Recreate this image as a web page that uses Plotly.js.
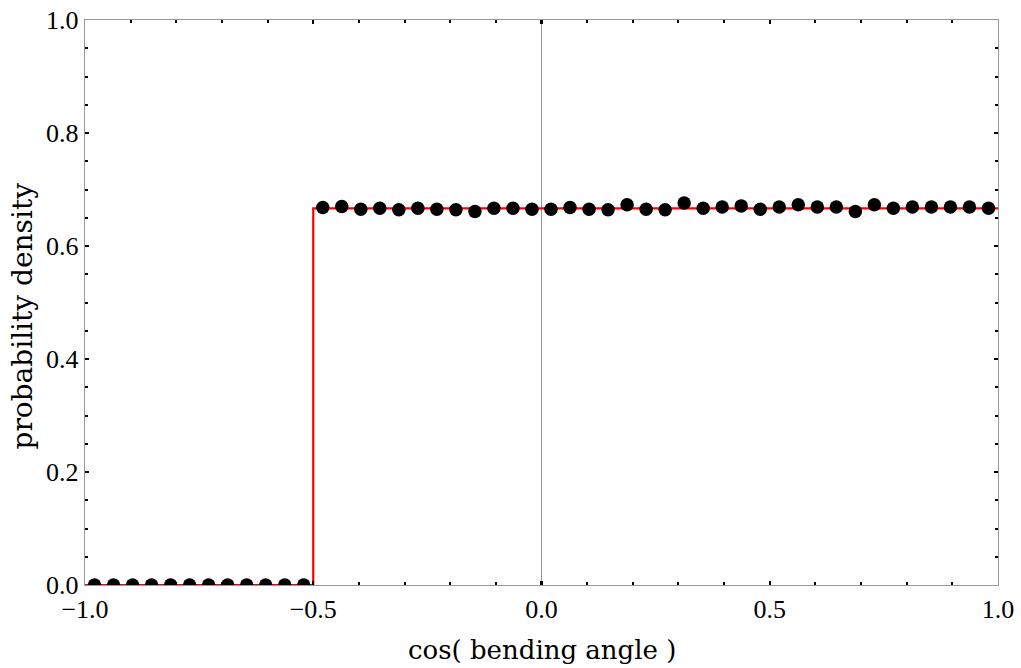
<!DOCTYPE html>
<html>
<head>
<meta charset="utf-8">
<script src="https://cdn.plot.ly/plotly-3.0.1.min.js"></script>
<style>html,body{margin:0;padding:0;background:#fff;}#chart{width:1021px;height:668px;}</style>
</head>
<body>
<div id="chart"></div>
<script>
// 48 histogram bins of cos(bending angle), width 1/24
const binCenters = [
  -0.9792,-0.9375,-0.8958,-0.8542,-0.8125,-0.7708,-0.7292,-0.6875,-0.6458,-0.6042,-0.5625,-0.5208,
  -0.4792,-0.4375,-0.3958,-0.3542,-0.3125,-0.2708,-0.2292,-0.1875,-0.1458,-0.1042,-0.0625,-0.0208,
   0.0208, 0.0625, 0.1042, 0.1458, 0.1875, 0.2292, 0.2708, 0.3125, 0.3542, 0.3958, 0.4375, 0.4792,
   0.5208, 0.5625, 0.6042, 0.6458, 0.6875, 0.7292, 0.7708, 0.8125, 0.8542, 0.8958, 0.9375, 0.9792
];
const density = [
  0,0,0,0,0,0,0,0,0,0,0,0,
  0.668,0.670,0.665,0.667,0.664,0.667,0.665,0.664,0.661,0.667,0.667,0.665,
  0.665,0.668,0.665,0.664,0.673,0.665,0.664,0.676,0.667,0.669,0.671,0.665,
  0.669,0.673,0.669,0.669,0.661,0.673,0.667,0.669,0.669,0.669,0.669,0.667
];
// theoretical step density
const theoryX = [-1.0, -0.5, -0.5, 1.0];
const theoryY = [0, 0, 0.6667, 0.6667];

const xTickVals = [-1, -0.5, 0, 0.5, 1];
const xTickText = ['\u22121.0', '\u22120.5', '0.0', '0.5', '1.0'];
const yTickVals = [0, 0.2, 0.4, 0.6, 0.8, 1.0];
const yTickText = ['0.0', '0.2', '0.4', '0.6', '0.8', '1.0'];
const xTitle = 'cos( bending angle )';
const yTitle = 'probability density';

const tickFont = 'Liberation Serif, Times New Roman, serif';
const titleFont = 'DejaVu Serif, serif';

const traces = [
  {x: theoryX, y: theoryY, type: 'scatter', mode: 'lines',
   line: {color: '#ff0000', width: 2.2}},
  {x: binCenters, y: density, type: 'scatter', mode: 'markers',
   marker: {color: 'black', size: 13.5}, cliponaxis: true}
];

const axisCommon = {
  showgrid: false,
  showline: true, linecolor: '#999999', linewidth: 1.3,
  mirror: 'ticks',
  ticks: 'inside', ticklen: 4, tickwidth: 2.2, tickcolor: '#000000',
  tickfont: {family: tickFont, size: 26, color: '#000'},
  automargin: false
};

const layout = {
  width: 1021, height: 668,
  margin: {l: 85, r: 23, t: 20, b: 83},
  paper_bgcolor: '#fff', plot_bgcolor: '#fff',
  showlegend: false,
  font: {family: tickFont, color: '#000'},
  xaxis: Object.assign({}, axisCommon, {
    range: [-1, 1], tickmode: 'array', tickvals: xTickVals, ticktext: xTickText,
    zeroline: true, zerolinecolor: '#999999', zerolinewidth: 1,
    minor: {dtick: 0.1, tick0: 0, ticks: 'inside', ticklen: 3, tickwidth: 2, tickcolor: '#000'}
  }),
  yaxis: Object.assign({}, axisCommon, {
    range: [0, 1], tickmode: 'array', tickvals: yTickVals, ticktext: yTickText,
    zeroline: false,
    minor: {dtick: 0.05, tick0: 0, ticks: 'inside', ticklen: 3, tickwidth: 2, tickcolor: '#000'}
  }),
  annotations: [
    {text: xTitle, xref: 'paper', yref: 'paper', x: 0.5, y: 0, xanchor: 'center', yanchor: 'middle',
     yshift: -65, showarrow: false, font: {family: titleFont, size: 26, color: '#000'}},
    {text: yTitle, xref: 'paper', yref: 'paper', x: 0, y: 0.5, xanchor: 'center', yanchor: 'middle',
     xshift: -63, yshift: -14, textangle: -90, showarrow: false,
     font: {family: titleFont, size: 28, color: '#000'}}
  ]
};

Plotly.newPlot('chart', traces, layout, {displayModeBar: false, staticPlot: true});
</script>
</body>
</html>
